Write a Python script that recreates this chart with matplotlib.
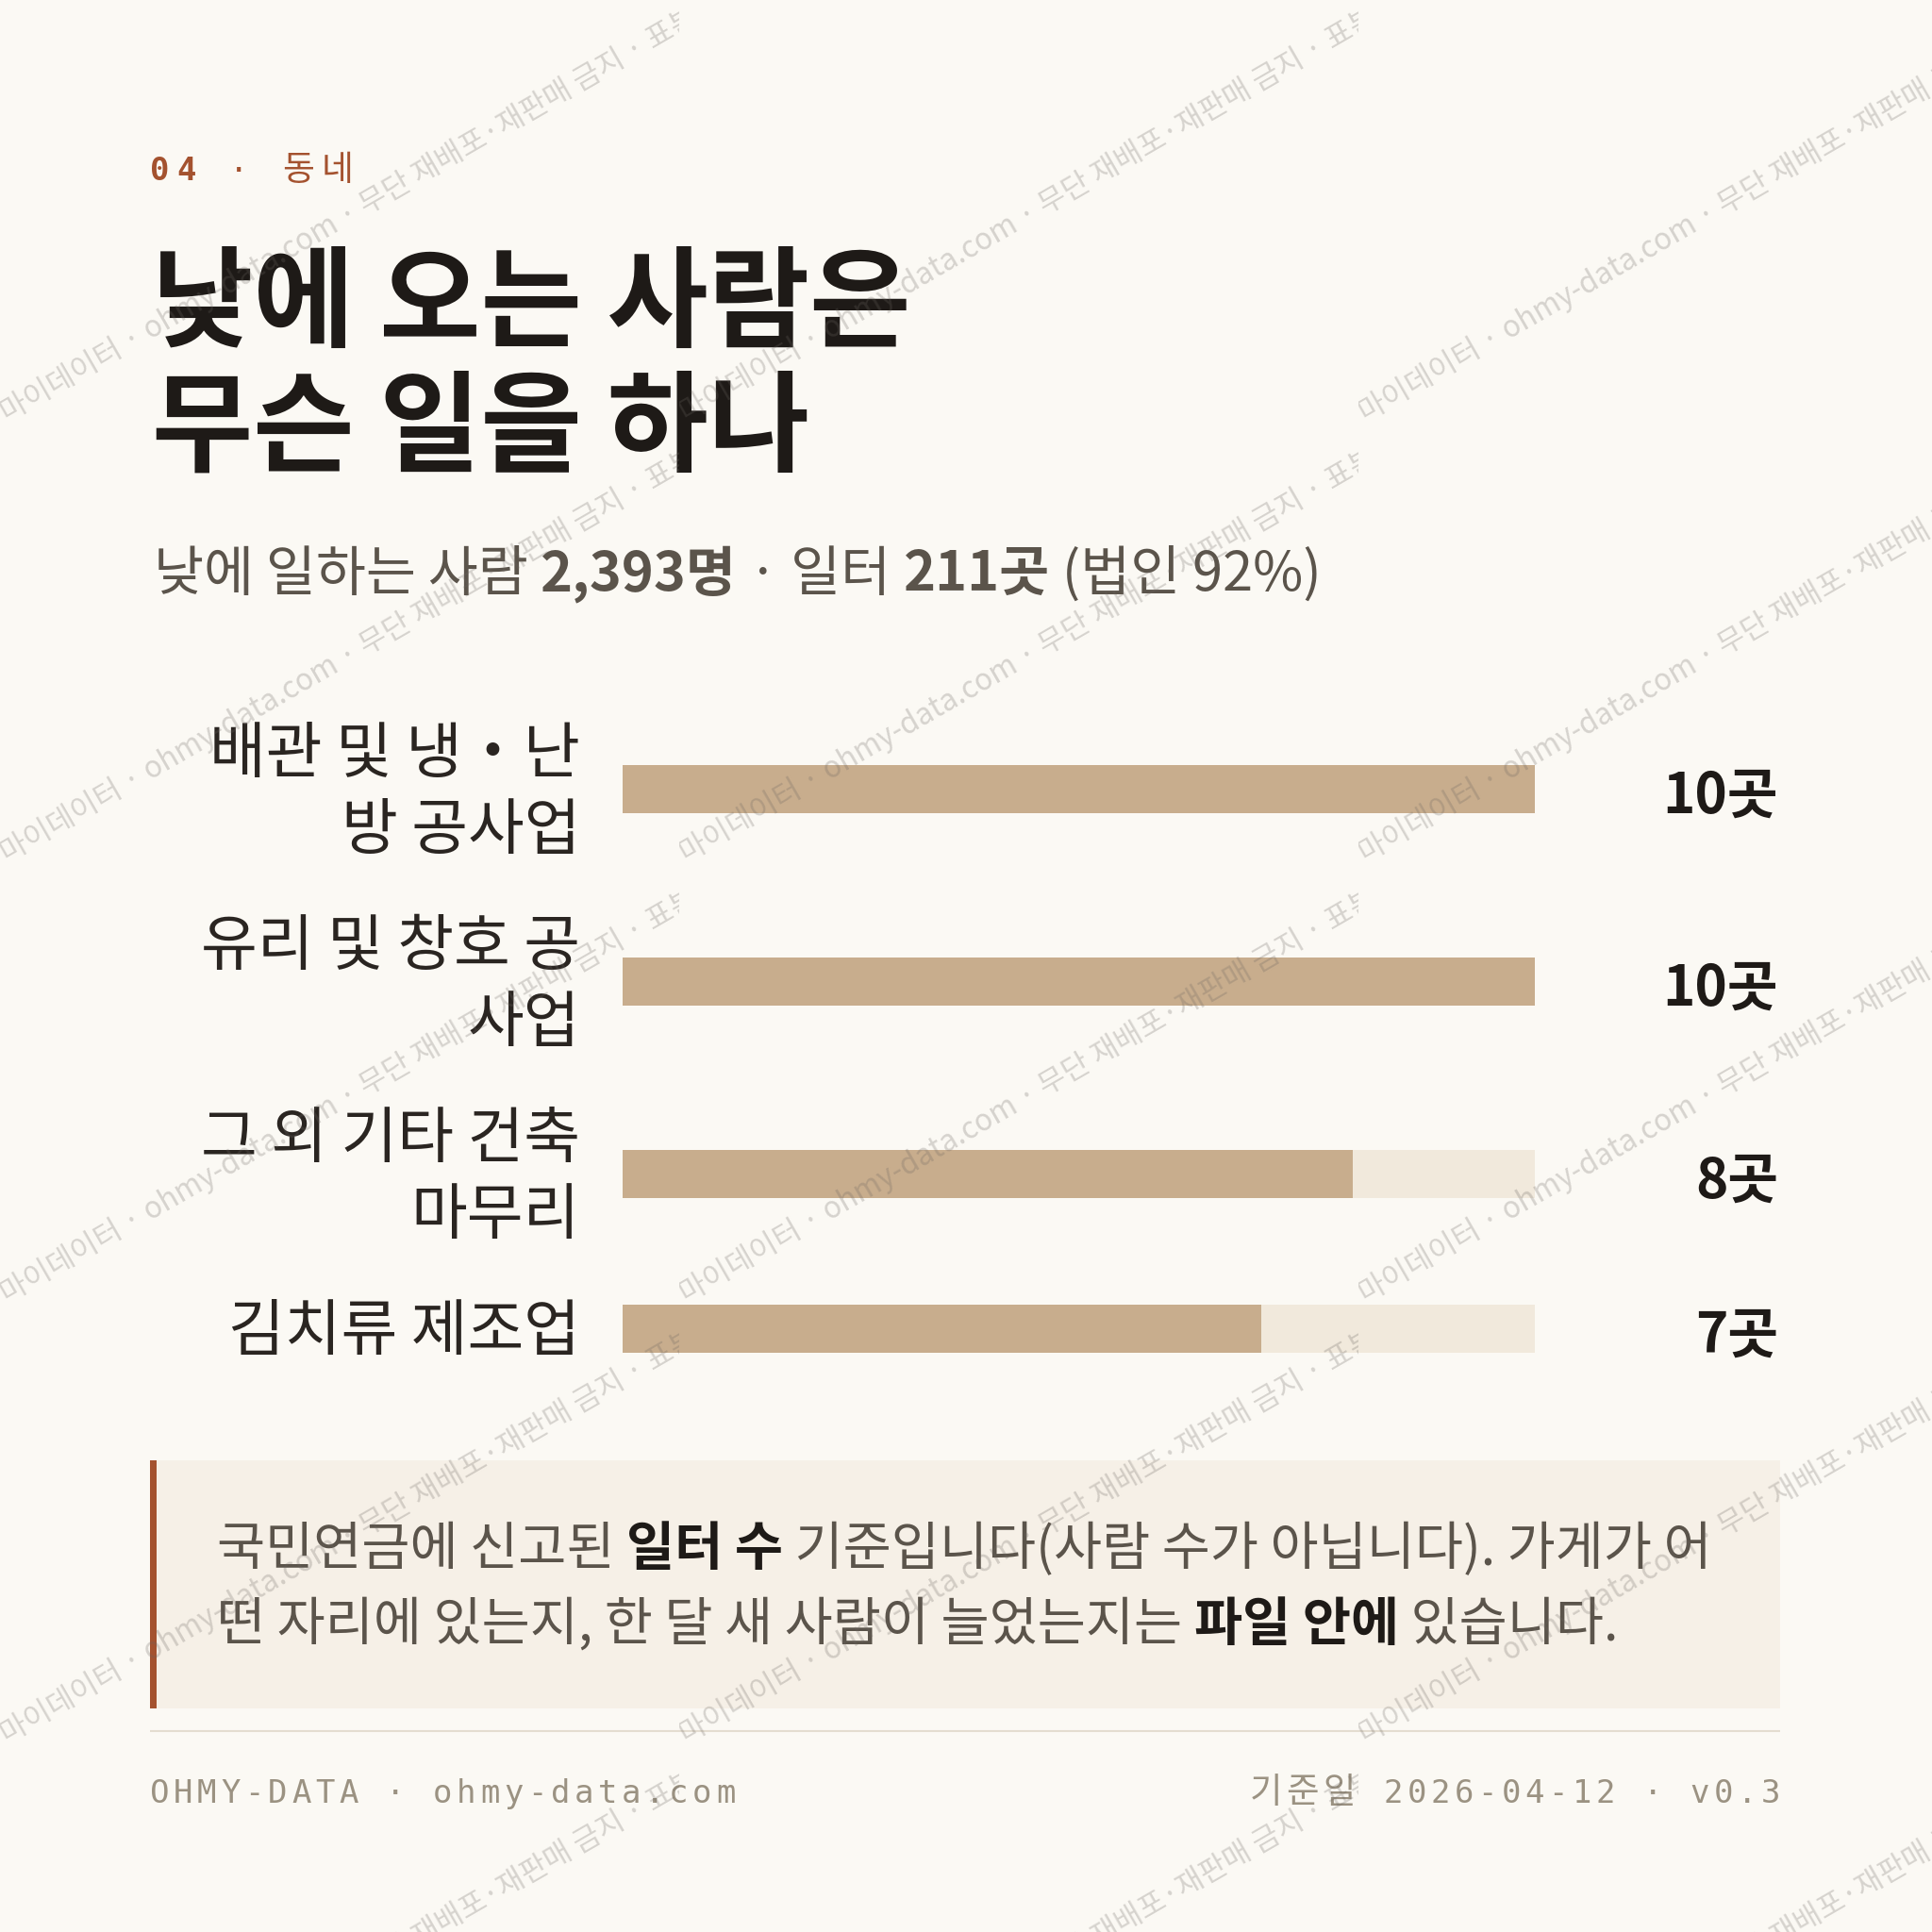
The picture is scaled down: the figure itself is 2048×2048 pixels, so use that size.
import math
import matplotlib
matplotlib.use("Agg")
import matplotlib.pyplot as plt
from matplotlib.patches import Rectangle
from matplotlib.transforms import Bbox, blended_transform_factory

# ---- data ----
kicker_num = "04"
kicker_label = "동네"
title_lines = ["낮에 오는 사람은", "무슨 일을 하나"]
subtitle_parts = [("낮에 일하는 사람 ", False), ("2,393명", True), (" · 일터 ", False),
                  ("211곳", True), (" (법인 92%)", False)]
categories = ["배관 및 냉・난\n방 공사업", "유리 및 창호 공\n사업", "그 외 기타 건축\n마무리", "김치류 제조업"]
counts = [10, 10, 8, 7]
count_max = 10
unit = "곳"
note_lines = [
    [("국민연금에 신고된 ", False), ("일터 수", True), (" 기준입니다(사람 수가 아닙니다). 가게가 어", False)],
    [("떤 자리에 있는지, 한 달 새 사람이 늘었는지는 ", False), ("파일 안에", True), (" 있습니다.", False)],
]
footer_left = "OHMY-DATA · ohmy-data.com"
footer_right = "기준일 2026-04-12 · v0.3"
watermark = "마이데이터 · ohmy-data.com · 무단 재배포·재판매 금지 · 표본"

# ---- style ----
BG = "#FBF9F4"
INK = "#1E1A17"
MUTED = "#5B544B"
RUST = "#A4522F"
BAR = "#C8AD8D"
TRACK = "#F1E9DC"
NOTE_BG = "#F6F0E7"
FOOT = "#9B9282"
RULE = "#E4DDD0"
MONO = ["DejaVu Sans Mono", "Noto Sans CJK KR"]
plt.rcParams["font.family"] = ["Noto Sans CJK KR", "DejaVu Sans"]

W = H = 2048
fig = plt.figure(figsize=(W / 100, H / 100), dpi=100, facecolor=BG)
lay = fig.add_axes([0, 0, 1, 1])
lay.set_xlim(0, W)
lay.set_ylim(H, 0)
lay.axis("off")
renderer = fig.canvas.get_renderer()


def adv(s, **kw):
    a = lay.text(0, 0, s + "|", **kw)
    b = lay.text(0, 0, "|", **kw)
    w = a.get_window_extent(renderer).width - b.get_window_extent(renderer).width
    a.remove()
    b.remove()
    return w


def runs(x, y, parts, spacing=0.0, ha="left", **common):
    # draw a line made of differently styled pieces, baseline at y
    items, cx = [], 0.0
    for s, kw in parts:
        opts = {**common, **kw}
        if spacing:
            for ch in s:
                items.append((cx, ch, opts))
                cx += adv(ch, **opts) + spacing
        else:
            items.append((cx, s, opts))
            cx += adv(s, **opts)
    total = cx - spacing
    x0 = x - total if ha == "right" else x
    for dx, s, opts in items:
        if s.strip():
            lay.text(x0 + dx, y, s, ha="left", va="baseline", **opts)
    return total


# kicker
runs(159, 191, [(kicker_num, {"fontweight": "bold"}), (" · ", {}), (kicker_label, {"fontsize": 26.5})],
     spacing=7.5, family=MONO, fontsize=24.5, color=RUST)

# title
for i, line in enumerate(title_lines):
    lay.text(161, 359 + i * 132, line, fontsize=84, fontweight="bold", color=INK,
             ha="left", va="baseline")

# subtitle
runs(163, 626, [(s, {"fontweight": "bold"} if b else {}) for s, b in subtitle_parts],
     fontsize=41.5, color=MUTED)

# ---- bars ----
line_h, row_gap, lab_em = 81, 42, 65
n_lines = [c.count("\n") + 1 for c in categories]
top = 734.5
centers = []
for n in n_lines:
    h = row_gap + line_h * n
    centers.append(top + h / 2)
    top += h
y_top, y_bot = 734.5, top
x_left, x_right = 660, 1627
ax = fig.add_axes([x_left / W, 1 - y_bot / H, (x_right - x_left) / W, (y_bot - y_top) / H])
ax.set_xlim(0, count_max)
ax.set_ylim(y_bot, y_top)
ax.axis("off")
ax.barh(centers, [count_max] * len(counts), height=51, color=TRACK, linewidth=0)
ax.barh(centers, counts, height=51, color=BAR, linewidth=0)

tr = blended_transform_factory(ax.transAxes, ax.transData)
lab_x = -45 / (x_right - x_left)
val_x = (1885 - x_left) / (x_right - x_left)
for yc, cat, v in zip(centers, categories, counts):
    lines = cat.split("\n")
    for k, ln in enumerate(lines):
        ly = yc + (k - (len(lines) - 1) / 2) * line_h + 0.36 * lab_em
        ax.text(lab_x, ly, ln, transform=tr, ha="right", va="baseline",
                fontsize=lab_em * 0.72, color="#2A2521")
    ax.text(val_x, yc + 4 + 0.37 * 58, f"{v}{unit}", transform=tr, ha="right",
            va="baseline", fontsize=42, fontweight="bold", color=INK)

# ---- note box ----
lay.add_patch(Rectangle((159, 1548), 1728, 263, facecolor=NOTE_BG, edgecolor="none"))
lay.add_patch(Rectangle((159, 1548), 7, 263, facecolor=RUST, edgecolor="none"))
for i, parts in enumerate(note_lines):
    runs(230, 1659 + i * 80,
         [(s, {"fontweight": "bold", "color": INK} if b else {"color": MUTED}) for s, b in parts],
         fontsize=40)

# ---- footer ----
lay.plot([159, 1887], [1835, 1835], color=RULE, lw=1.5, solid_capstyle="butt")
runs(159, 1911, [(footer_left, {})], spacing=4.5, family=MONO, fontsize=24.5, color=FOOT)
runs(1887, 1911, [("기준일", {"fontsize": 27}), (" 2026-04-12 · v0.3", {})], spacing=4.5,
     ha="right", family=MONO, fontsize=24.5, color=FOOT)

# ---- watermark tiles (on top of everything) ----
wm = fig.add_axes([0, 0, 1, 1])
wm.set_xlim(0, W)
wm.set_ylim(H, 0)
wm.axis("off")
tile_w, tile_h = 720, 467
ang = 30
for row in range(0, 5):
    for col in range(0, 3):
        x0, y0 = col * tile_w, row * tile_h
        sx = x0 + 3
        sy = y0 + tile_h / 2 + (tile_w / 2 - 3) * math.tan(math.radians(ang))
        t = wm.text(sx, sy, watermark, rotation=ang, rotation_mode="anchor",
                    ha="left", va="center", fontsize=22.5, color="#6B6560", alpha=0.26)
        t.set_clip_box(Bbox.from_extents(x0, H - (y0 + tile_h), x0 + tile_w, H - y0))
        t.set_clip_on(True)

fig.savefig("out.png", dpi=100, facecolor=BG)
